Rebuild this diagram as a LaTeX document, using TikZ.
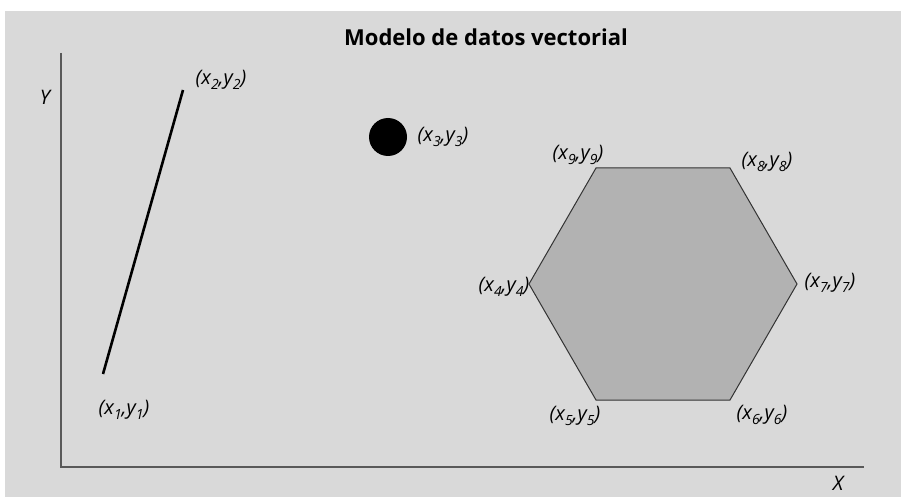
\documentclass[tikz,border=0pt]{standalone}
\usepackage{fontspec}
\setmainfont{Open Sans}
\usetikzlibrary{positioning}

\newcommand{\sub}[1]{\raisebox{-0.4ex}{\fontsize{14}{14}\selectfont #1}}

\begin{document}
\begin{tikzpicture}[
    x=1pt, y=-1pt,
    axis/.style={draw=black!65, line width=1.2pt},
    segment/.style={line width=2.6pt},
    coord/.style={font=\itshape\fontsize{20}{22}\selectfont, inner sep=1pt},
    title/.style={font=\bfseries\fontsize{22}{26}\selectfont},
    polygon/.style={draw=black!80, line width=1pt, fill=black!30, line join=miter}
]
    % Canvas
    \useasboundingbox (0,0) rectangle (901,497);
    \fill[black!15] (5,11) rectangle (901,497);

    % Title
    \node[title] (head) at (486,37) {Modelo de datos vectorial};

    % Axes
    \coordinate (origin) at (61,467);
    \coordinate (ytop) at (61,53);
    \coordinate (xend) at (864,467);
    \draw[axis] (ytop) -- (origin) -- (xend);
    \node[coord] (ylab) at (45,97) {Y};
    \node[coord] (xlab) at (838,483) {X};

    % Line
    \coordinate (p1) at (103,374);
    \coordinate (p2) at (183,90);
    \draw[segment] (p1) -- (p2);
    \node[coord] (l1) at (124,410) {(x\sub{1},y\sub{1})};
    \node[coord] (l2) at (221,80) {(x\sub{2},y\sub{2})};

    % Point
    \coordinate (p3) at (388,137);
    \fill (p3) circle (19);
    \node[coord] (l3) at (443,137) {(x\sub{3},y\sub{3})};

    % Polygon
    \coordinate (p4) at (529,284);
    \coordinate (p5) at (596,400);
    \coordinate (p6) at (730,400);
    \coordinate (p7) at (797,284);
    \coordinate (p8) at (730,168);
    \coordinate (p9) at (596,168);
    \draw[polygon] (p4) -- (p5) -- (p6) -- (p7) -- (p8) -- (p9) -- cycle;
    \node[coord] (l4) at (504,287) {(x\sub{4},y\sub{4})};
    \node[coord] (l5) at (575,416) {(x\sub{5},y\sub{5})};
    \node[coord] (l6) at (762,415) {(x\sub{6},y\sub{6})};
    \node[coord] (l7) at (830,283) {(x\sub{7},y\sub{7})};
    \node[coord] (l8) at (767,162) {(x\sub{8},y\sub{8})};
    \node[coord] (l9) at (578,155) {(x\sub{9},y\sub{9})};
\end{tikzpicture}
\end{document}
